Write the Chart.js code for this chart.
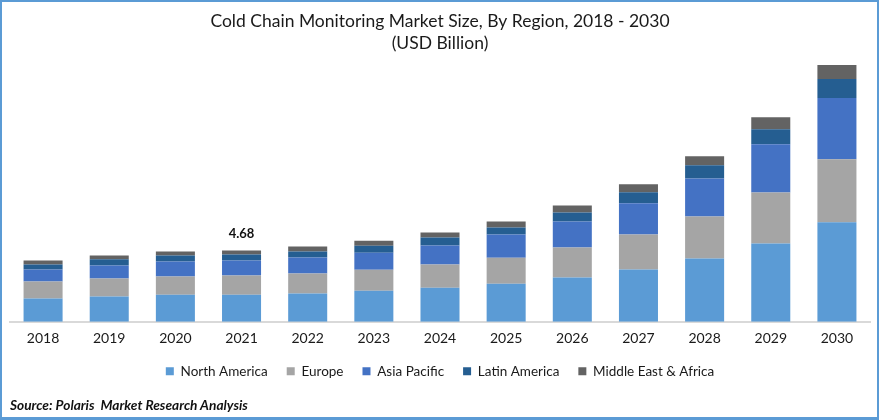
<!DOCTYPE html>
<html>
<head>
<meta charset="utf-8">
<script src="https://cdn.jsdelivr.net/npm/chart.js@4"></script>
<style>
    html, body { margin: 0; padding: 0; background: #fff; }
    #frame { position: relative; width: 879px; height: 420px; box-sizing: border-box; overflow: hidden; }
    #frame::after { content: ''; position: absolute; inset: 0; border: 2px solid #5B9BD5; border-bottom-width: 3px; pointer-events: none; }
    #source { position: absolute; left: 10px; top: 396px; font: italic 700 13.7px Lato, sans-serif; color: #111; }
</style>
</head>
<body>
<div id="frame">
    <canvas id="regionChart" width="879" height="420"></canvas>
    <div id="source">Source: Polaris&nbsp; Market Research Analysis</div>
</div>
<script>
const years = ['2018', '2019', '2020', '2021', '2022', '2023', '2024', '2025', '2026', '2027', '2028', '2029', '2030'];
const northAmerica = [1.52, 1.65, 1.78, 1.78, 1.85, 2.04, 2.24, 2.50, 2.90, 3.43, 4.15, 5.14, 6.53];
const europe = [1.12, 1.19, 1.19, 1.25, 1.32, 1.38, 1.52, 1.71, 1.98, 2.31, 2.77, 3.36, 4.15];
const asiaPacific = [0.79, 0.86, 0.99, 0.99, 1.05, 1.12, 1.25, 1.52, 1.71, 2.04, 2.50, 3.16, 4.02];
const latinAmerica = [0.33, 0.40, 0.40, 0.40, 0.40, 0.46, 0.53, 0.46, 0.59, 0.73, 0.86, 0.99, 1.25];
const middleEast = [0.26, 0.26, 0.26, 0.26, 0.33, 0.33, 0.33, 0.40, 0.46, 0.53, 0.59, 0.79, 0.92];
const labelledYear = '2021';
const labelledTotal = '4.68';

const font = 'Lato, sans-serif';

// writes the single total that the reference shows, above the 2021 bar
const totalLabel = {
    id: 'totalLabel',
    afterDatasetsDraw(chart) {
        const i = years.indexOf(labelledYear);
        const top = chart.getDatasetMeta(chart.data.datasets.length - 1).data[i];
        const ctx = chart.ctx;
        ctx.save();
        ctx.font = '700 13px ' + font;
        ctx.fillStyle = '#111';
        ctx.textAlign = 'center';
        ctx.fillText(labelledTotal, top.x, top.y - 17);
        ctx.restore();
    },
};

function series(label, data, color) {
    return { label, data, backgroundColor: color, barPercentage: 1, categoryPercentage: 0.59 };
}

new Chart(document.getElementById('regionChart'), {
    type: 'bar',
    data: {
        labels: years,
        datasets: [
            series('North America', northAmerica, '#5B9BD5'),
            series('Europe', europe, '#A5A5A5'),
            series('Asia Pacific', asiaPacific, '#4472C4'),
            series('Latin America', latinAmerica, '#255E91'),
            series('Middle East & Africa', middleEast, '#636363'),
        ],
    },
    options: {
        responsive: false,
        animation: false,
        layout: { padding: { left: 10, right: 9, top: 0, bottom: 32 } },
        scales: {
            x: {
                stacked: true,
                grid: { display: false, drawTicks: false },
                border: { color: '#D9D9D9', width: 2 },
                ticks: { color: '#1a1a1a', font: { family: font, size: 14 }, padding: 8, maxRotation: 0, autoSkip: false },
                // legend sits closer to the tick labels than Chart.js would leave by default
                afterFit(axis) { axis.height -= 9; },
            },
            y: {
                stacked: true,
                display: false,
                min: 0,
                max: 17.57,
            },
        },
        plugins: {
            title: {
                display: true,
                text: ['Cold Chain Monitoring Market Size, By Region, 2018 - 2030', '(USD Billion)'],
                color: '#1a1a1a',
                font: { family: font, size: 17.5, weight: 'normal', lineHeight: 1.27 },
                padding: { top: 10, bottom: 0 },
            },
            legend: {
                position: 'bottom',
                labels: { color: '#1a1a1a', font: { family: font, size: 13.5 }, boxWidth: 8, boxHeight: 8, padding: 19 },
            },
            tooltip: { enabled: false },
        },
    },
    plugins: [totalLabel],
});
</script>
</body>
</html>
